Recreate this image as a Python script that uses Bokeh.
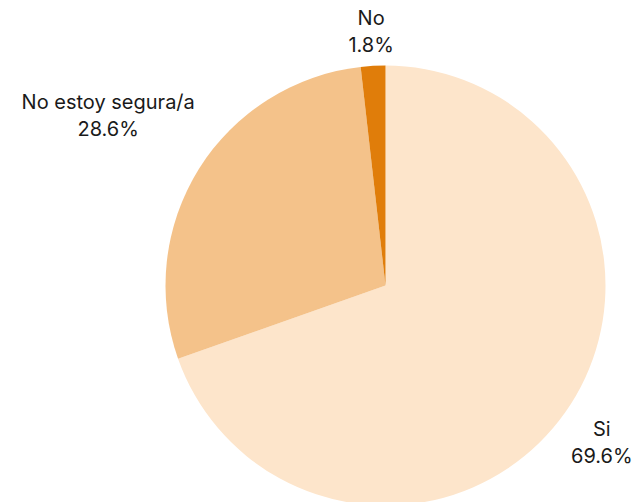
import numpy as np
from bokeh.plotting import figure
from bokeh.models import ColumnDataSource, Range1d
from bokeh.core.properties import value
from bokeh.embed import file_html
from bokeh.resources import INLINE

categories = ["Si", "No estoy segura/a", "No"]
percent = [69.6, 28.6, 1.8]
colors = ["#FDE5CB", "#F4C28A", "#E07D0A"]

W, H = 637, 502
cx, cy, R = 385, H - 285, 220

frac = np.array(percent) / sum(percent)
cum = np.concatenate([[0], np.cumsum(frac)])
start = np.pi / 2 - 2 * np.pi * cum[:-1]
end = np.pi / 2 - 2 * np.pi * cum[1:]
mid = (start + end) / 2

src = ColumnDataSource(dict(start=start, end=end, color=colors))

p = figure(width=W, height=H, output_backend="svg", toolbar_location=None,
           x_range=Range1d(0, W), y_range=Range1d(0, H), min_border=0)
p.axis.visible = False
p.grid.visible = False
p.outline_line_color = None
p.background_fill_color = "white"
p.border_fill_color = "white"

p.wedge(x=cx, y=cy, radius=R, start_angle="start", end_angle="end",
        direction="clock", fill_color="color", line_color=None, source=src)

# label placement: radius then per-label nudges (pixels)
label_r = 254
nudge_x = [9, -62, 0]
nudge_y = [-10, 35, 0]
lx = cx + label_r * np.cos(mid) + np.array(nudge_x)
ly = cy + label_r * np.sin(mid) + np.array(nudge_y)
texts = [f"{c}\n{v:.1f}%" for c, v in zip(categories, percent)]
lsrc = ColumnDataSource(dict(x=lx, y=ly, t=texts))
p.text(x="x", y="y", text="t", source=lsrc, text_align="center",
       text_baseline="middle", text_font=value("Inter"), text_font_size="20px",
       text_color="#1a1a1a", text_line_height=1.12)

open("out.html", "w").write(file_html(p, INLINE))
